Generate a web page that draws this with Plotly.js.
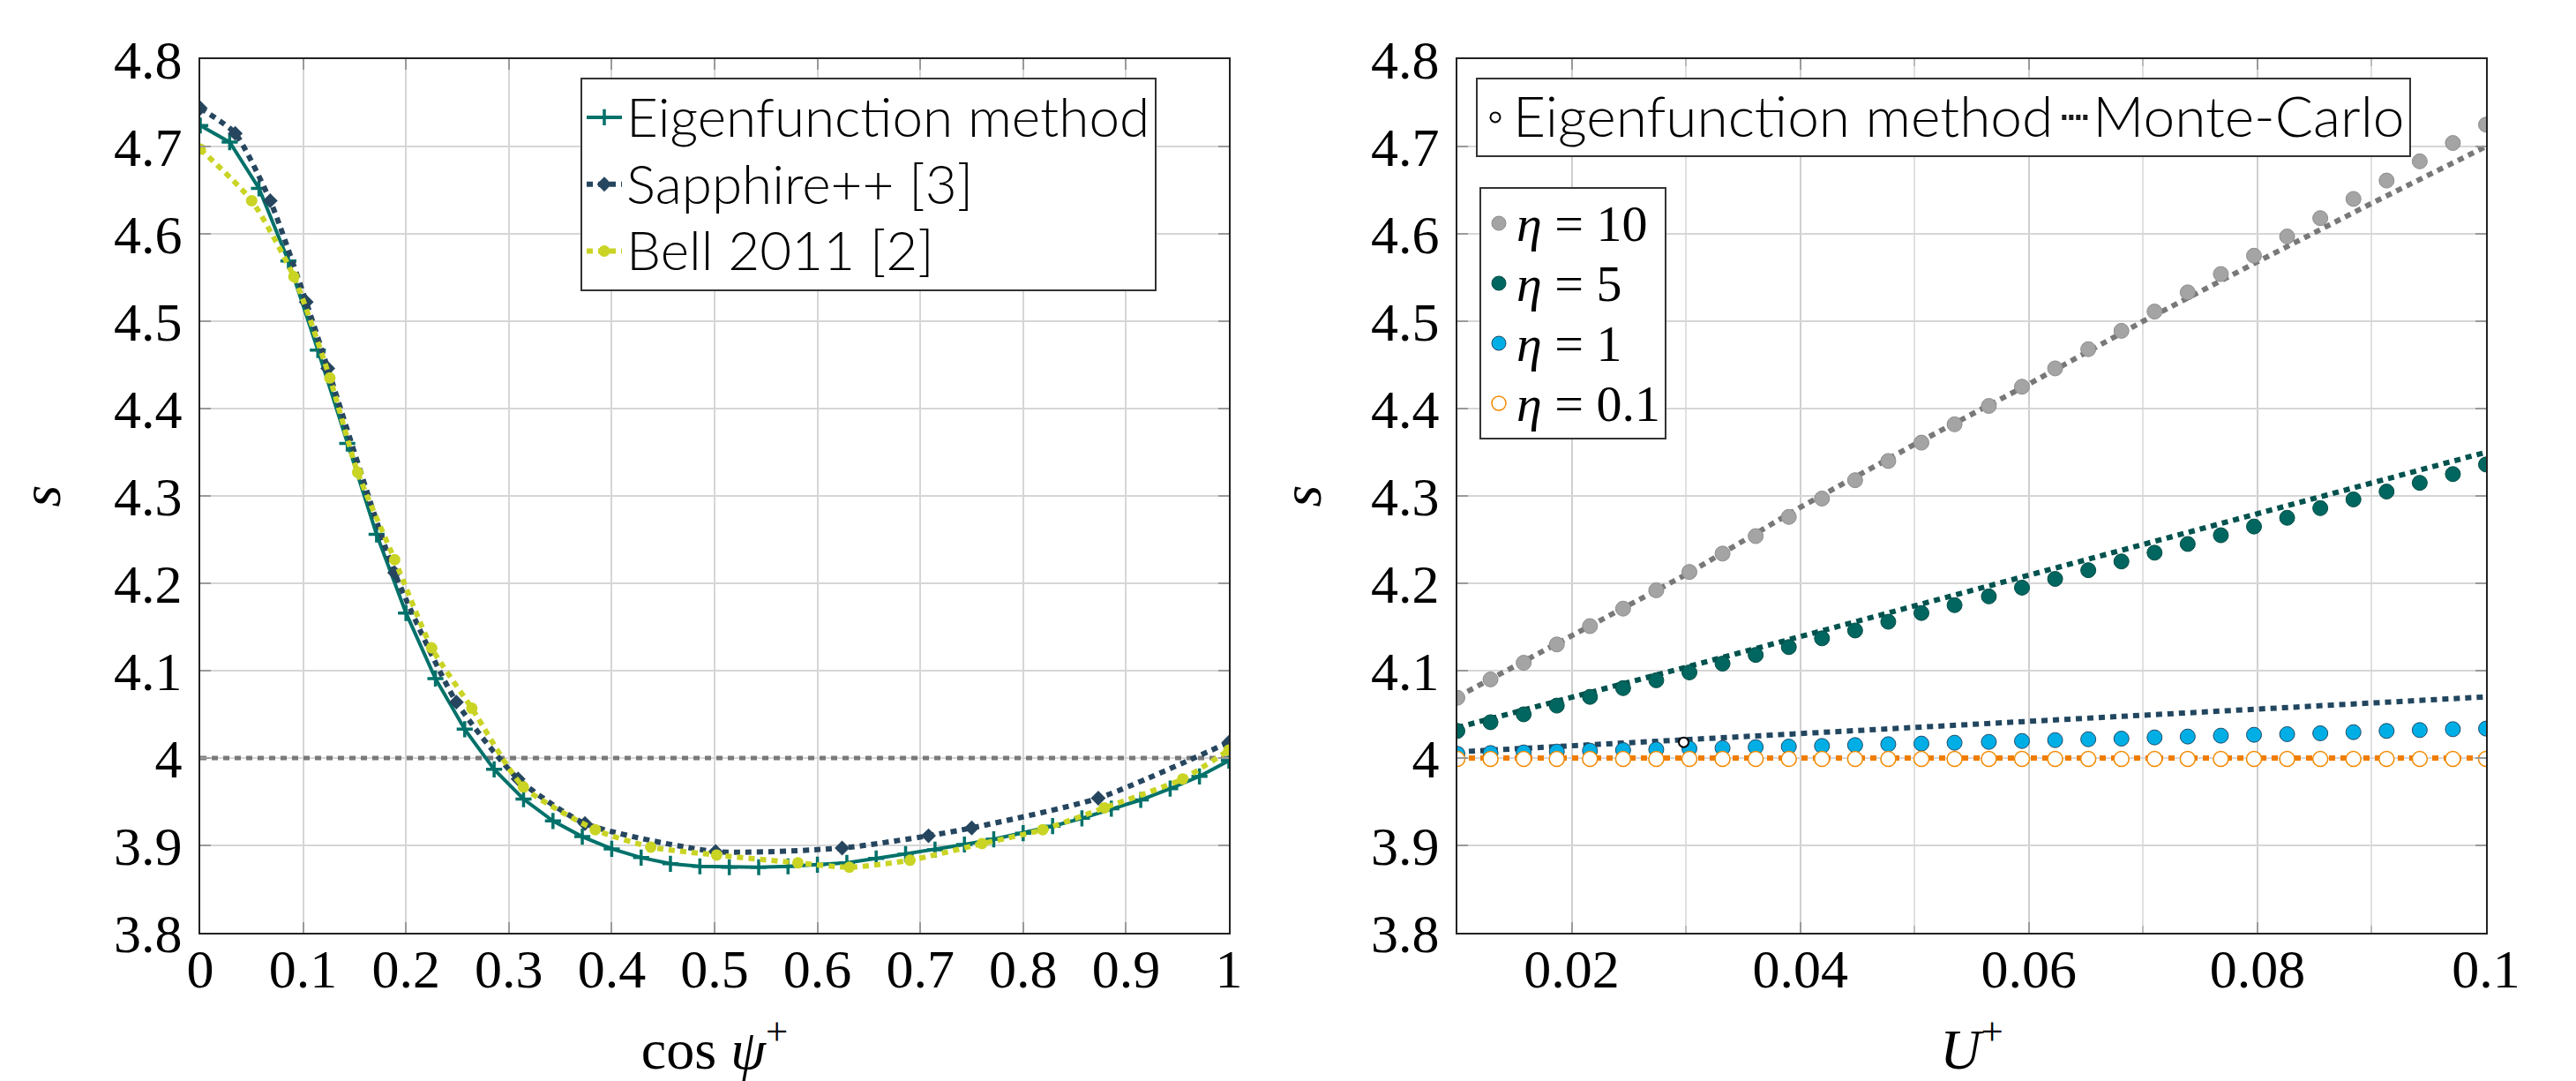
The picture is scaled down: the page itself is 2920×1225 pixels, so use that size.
<!DOCTYPE html>
<html><head><meta charset="utf-8">
<script src="https://cdn.plot.ly/plotly-3.0.1.min.js"></script>
<style>html,body{margin:0;padding:0;background:#fff}</style>
</head><body><div id="chart" style="width:2920px;height:1225px"></div>
<script>
// ---------- Left panel data ----------
const cosPsi = [0, 0.0286, 0.0571, 0.0857, 0.1143, 0.1429, 0.1714, 0.2, 0.2286, 0.2571, 0.2857, 0.3143, 0.3429, 0.3714, 0.4, 0.4286, 0.4571, 0.4857, 0.5143, 0.5429, 0.5714, 0.6, 0.6286, 0.6571, 0.6857, 0.7143, 0.7429, 0.7714, 0.8, 0.8286, 0.8571, 0.8857, 0.9143, 0.9429, 0.9714, 1];
const eigenS = [4.724, 4.705, 4.652, 4.569, 4.467, 4.360, 4.256, 4.166, 4.091, 4.033, 3.987, 3.953, 3.928, 3.910, 3.896, 3.886, 3.879, 3.876, 3.875, 3.875, 3.876, 3.878, 3.880, 3.885, 3.890, 3.895, 3.901, 3.907, 3.914, 3.922, 3.931, 3.942, 3.952, 3.965, 3.979, 3.997];
const sapphireX = [0, 0.034, 0.068, 0.103, 0.124, 0.189, 0.249, 0.309, 0.374, 0.501, 0.624, 0.708, 0.750, 0.873, 1.0];
const sapphireS = [4.744, 4.715, 4.638, 4.522, 4.446, 4.212, 4.064, 3.976, 3.925, 3.893, 3.897, 3.911, 3.920, 3.954, 4.018];
const bellX = [0, 0.050, 0.091, 0.126, 0.153, 0.189, 0.225, 0.264, 0.314, 0.384, 0.438, 0.502, 0.581, 0.631, 0.690, 0.760, 0.819, 0.879, 0.955, 1.0];
const bellS = [4.697, 4.638, 4.551, 4.435, 4.327, 4.227, 4.126, 4.057, 3.967, 3.918, 3.898, 3.889, 3.880, 3.875, 3.883, 3.902, 3.918, 3.943, 3.976, 4.009];
const cosPsiRange = [0, 1];
const refLevel = [4, 4];

// ---------- Right panel data ----------
const uPlus = [0.0100, 0.0129, 0.0158, 0.0187, 0.0216, 0.0245, 0.0274, 0.0303, 0.0332, 0.0361, 0.0390, 0.0419, 0.0448, 0.0477, 0.0506, 0.0535, 0.0565, 0.0594, 0.0623, 0.0652, 0.0681, 0.0710, 0.0739, 0.0768, 0.0797, 0.0826, 0.0855, 0.0884, 0.0913, 0.0942, 0.0971, 0.1000];
const eig10 = [4.069, 4.090, 4.109, 4.130, 4.151, 4.171, 4.192, 4.213, 4.234, 4.254, 4.276, 4.297, 4.318, 4.340, 4.361, 4.382, 4.403, 4.425, 4.446, 4.468, 4.489, 4.511, 4.533, 4.554, 4.575, 4.597, 4.618, 4.640, 4.661, 4.683, 4.704, 4.725];
const eig5 = [4.031, 4.041, 4.050, 4.060, 4.070, 4.080, 4.089, 4.098, 4.108, 4.118, 4.127, 4.137, 4.146, 4.156, 4.166, 4.175, 4.185, 4.195, 4.205, 4.215, 4.225, 4.235, 4.245, 4.255, 4.265, 4.275, 4.286, 4.296, 4.305, 4.315, 4.325, 4.336];
const eig1 = [4.0048, 4.0057, 4.0064, 4.0074, 4.0084, 4.0091, 4.0098, 4.0108, 4.0114, 4.0125, 4.0131, 4.0138, 4.0148, 4.0158, 4.0165, 4.0175, 4.0185, 4.0195, 4.0205, 4.0215, 4.0222, 4.0236, 4.0246, 4.0256, 4.0266, 4.0273, 4.0283, 4.0296, 4.0310, 4.0320, 4.0330, 4.0337];
const eig01 = [3.999, 3.999, 3.999, 3.999, 3.999, 3.999, 3.999, 3.999, 3.999, 3.999, 3.999, 3.999, 3.999, 3.999, 3.999, 3.999, 3.999, 3.999, 3.999, 3.999, 3.999, 3.999, 3.999, 3.999, 3.999, 3.999, 3.999, 3.999, 3.999, 3.999, 3.999, 3.999];
const mcU = [0.01, 0.02, 0.03, 0.04, 0.05, 0.06, 0.07, 0.08, 0.09, 0.1];
const mc10 = [4.070, 4.140, 4.210, 4.287, 4.359, 4.428, 4.500, 4.568, 4.635, 4.700];
const mc5 = [4.035, 4.069, 4.104, 4.139, 4.174, 4.210, 4.245, 4.280, 4.315, 4.350];
const mc1 = [4.007, 4.014, 4.021, 4.028, 4.035, 4.042, 4.049, 4.056, 4.063, 4.070];
const mc01 = [4.000, 4.000, 4.000, 4.000, 4.000, 4.000, 4.000, 4.000, 4.000, 4.000];
const strayU = [0.0298];   // stray legend-style marker visible in the original
const strayS = [4.018];
const uTickVals = [0.02, 0.04, 0.06, 0.08, 0.1];
const uTickText = ['0.02', '0.04', '0.06', '0.08', '0.1'];
const leftNames = ['Eigenfunction method', 'Sapphire++ [3]', 'Bell 2011 [2]'];
const methodNames = ['Eigenfunction method', 'Monte-Carlo'];
const etaLabels = ['<i>η</i> = 10', '<i>η</i> = 5', '<i>η</i> = 1', '<i>η</i> = 0.1'];

// ---------- Styles ----------
const C = {
  teal: '#00716a', navy: '#26465f', lime: '#c9d424',
  gray: '#a4a4a4', grayLine: '#787878', teal5: '#00665f', teal5Line: '#00524e',
  cyan: '#00aee6', navy1: '#22465f', orange: '#f28a00', orangeLine: '#f07d00'
};
const serif = 'Liberation Serif, DejaVu Serif, serif';
const lato = 'Lato, Open Sans, sans-serif';
const dotDash = '7px,6px';
const big = (t, px) => '<span style="font-size:' + px + 'px">' + t + '</span>';
const LEG_PX = 62, ETA_PX = 58;

const traces = [
  // left panel reference level
  {x: cosPsiRange, y: refLevel, xaxis: 'x', yaxis: 'y', mode: 'lines', showlegend: false,
   line: {color: '#7a7a7a', width: 5, dash: '7px,6px'}},
  // left panel curves
  {x: cosPsi, y: eigenS, xaxis: 'x', yaxis: 'y', name: big(leftNames[0], LEG_PX), mode: 'lines+markers',
   line: {color: C.teal, width: 4}, marker: {symbol: 'cross-thin', size: 13, line: {color: C.teal, width: 3.5}}, legend: 'legend'},
  {x: sapphireX, y: sapphireS, xaxis: 'x', yaxis: 'y', name: big(leftNames[1], LEG_PX), mode: 'lines+markers',
   line: {color: C.navy, width: 6, dash: dotDash, shape: 'spline', smoothing: 0.6}, marker: {symbol: 'diamond', size: 13, color: C.navy}, legend: 'legend'},
  {x: bellX, y: bellS, xaxis: 'x', yaxis: 'y', name: big(leftNames[2], LEG_PX), mode: 'lines+markers',
   line: {color: C.lime, width: 6, dash: dotDash, shape: 'spline', smoothing: 0.6}, marker: {symbol: 'circle', size: 13, color: C.lime}, legend: 'legend'},
  // right panel: Monte-Carlo lines
  {x: mcU, y: mc10, xaxis: 'x2', yaxis: 'y2', mode: 'lines', showlegend: false, line: {color: C.grayLine, width: 6, dash: dotDash}},
  {x: mcU, y: mc5, xaxis: 'x2', yaxis: 'y2', mode: 'lines', showlegend: false, line: {color: C.teal5Line, width: 6, dash: dotDash}},
  {x: mcU, y: mc1, xaxis: 'x2', yaxis: 'y2', mode: 'lines', showlegend: false, line: {color: C.navy1, width: 6, dash: dotDash}},
  {x: mcU, y: mc01, xaxis: 'x2', yaxis: 'y2', mode: 'lines', showlegend: false, line: {color: C.orangeLine, width: 6, dash: dotDash}},
  // right panel: eigenfunction points
  {x: uPlus, y: eig10, xaxis: 'x2', yaxis: 'y2', mode: 'markers', name: big(etaLabels[0], ETA_PX), legend: 'legend3',
   marker: {size: 17, color: C.gray, line: {color: '#8d8d8d', width: 1}}},
  {x: uPlus, y: eig5, xaxis: 'x2', yaxis: 'y2', mode: 'markers', name: big(etaLabels[1], ETA_PX), legend: 'legend3',
   marker: {size: 17, color: C.teal5, line: {color: '#004c46', width: 1}}},
  {x: uPlus, y: eig1, xaxis: 'x2', yaxis: 'y2', mode: 'markers', name: big(etaLabels[2], ETA_PX), legend: 'legend3',
   marker: {size: 17, color: C.cyan, line: {color: '#1d4a66', width: 1}}},
  {x: uPlus, y: eig01, xaxis: 'x2', yaxis: 'y2', mode: 'markers', name: big(etaLabels[3], ETA_PX), legend: 'legend3',
   marker: {size: 17, color: '#ffffff', line: {color: C.orange, width: 1.5}}},
  // right panel: legend entries for method
  {x: strayU, y: strayS, xaxis: 'x2', yaxis: 'y2', mode: 'markers', name: big(methodNames[0], 64), legend: 'legend2',
   marker: {size: 11, color: '#ffffff', line: {color: '#000000', width: 2}}},
  {x: [null], y: [null], xaxis: 'x2', yaxis: 'y2', mode: 'lines', name: big(methodNames[1], 64), legend: 'legend2',
   line: {color: '#1a1a1a', width: 6, dash: '5px,3px'}}
];

const W = 2920, H = 1225;
const plotTop = 67, plotBottom = 1057;
const yDomain = [1 - plotBottom / H, 1 - plotTop / H];

const tickFont = {family: serif, size: 62, color: '#000'};
const titleFont = {family: serif, size: 64, color: '#000'};

const commonY = {
  range: [3.8, 4.8], dtick: 0.1, tick0: 3.8, domain: yDomain,
  showgrid: true, gridcolor: '#d6d6d6', gridwidth: 2, zeroline: false,
  showline: true, linecolor: '#222', linewidth: 2, mirror: 'ticks',
  ticks: 'inside', ticklen: 12, tickwidth: 2, tickcolor: '#9a9a9a',
  tickfont: tickFont, ticklabelstandoff: 6
};

const layout = {
  width: W, height: H,
  margin: {l: 0, r: 0, t: 0, b: 0},
  paper_bgcolor: '#fff', plot_bgcolor: '#fff',
  font: {family: serif, size: 58, color: '#000'},
  xaxis: {
    domain: [227 / W, 1393 / W], range: [0, 1], dtick: 0.1, tick0: 0,
    showgrid: true, gridcolor: '#d6d6d6', gridwidth: 2, zeroline: false,
    showline: true, linecolor: '#222', linewidth: 2, mirror: 'ticks',
    ticks: 'inside', ticklen: 12, tickwidth: 2, tickcolor: '#9a9a9a',
    tickfont: tickFont, ticklabelstandoff: -14,
    title: {text: 'cos <i>ψ</i><sup>+</sup>', font: titleFont, standoff: 48}
  },
  yaxis: Object.assign({}, commonY, {anchor: 'x', title: {text: '<i>s</i>', font: titleFont, standoff: 40}}),
  xaxis2: {
    domain: [1652 / W, 2818 / W], range: [0.01, 0.1], anchor: 'y2',
    tickvals: uTickVals, ticktext: uTickText,
    showgrid: true, gridcolor: '#cfcfcf', gridwidth: 2, zeroline: false,
    minor: {dtick: 0.01, tick0: 0, showgrid: true, gridcolor: '#e0e0e0', gridwidth: 2, ticks: 'inside', ticklen: 8, tickcolor: '#bbb'},
    showline: true, linecolor: '#222', linewidth: 2, mirror: 'ticks',
    ticks: 'inside', ticklen: 12, tickwidth: 2, tickcolor: '#9a9a9a',
    tickfont: tickFont, ticklabelstandoff: -14,
    title: {text: '<i>U</i><sup>+</sup>', font: titleFont, standoff: 48}
  },
  yaxis2: Object.assign({}, commonY, {anchor: 'x2', title: {text: '<i>s</i>', font: titleFont, standoff: 36}}),
  legend: {
    x: 658 / W, y: 1 - 88 / H, xanchor: 'left', yanchor: 'top',
    bgcolor: '#fff', bordercolor: '#333', borderwidth: 2,
    font: {family: lato, size: 56, color: '#000', weight: 300},
    itemwidth: 40, tracegroupgap: 0
  },
  legend2: {
    x: 1673 / W, y: 1 - 88 / H, xanchor: 'left', yanchor: 'top', orientation: 'h',
    bgcolor: '#fff', bordercolor: '#333', borderwidth: 2,
    font: {family: lato, size: 56, color: '#000', weight: 300},
    itemwidth: 30
  },
  legend3: {
    x: 1677 / W, y: 1 - 212 / H, xanchor: 'left', yanchor: 'top',
    bgcolor: '#fff', bordercolor: '#333', borderwidth: 2,
    font: {family: serif, size: 50, color: '#000'},
    itemwidth: 30
  }
};

Plotly.newPlot('chart', traces, layout, {displayModeBar: false});
</script>
</body></html>
